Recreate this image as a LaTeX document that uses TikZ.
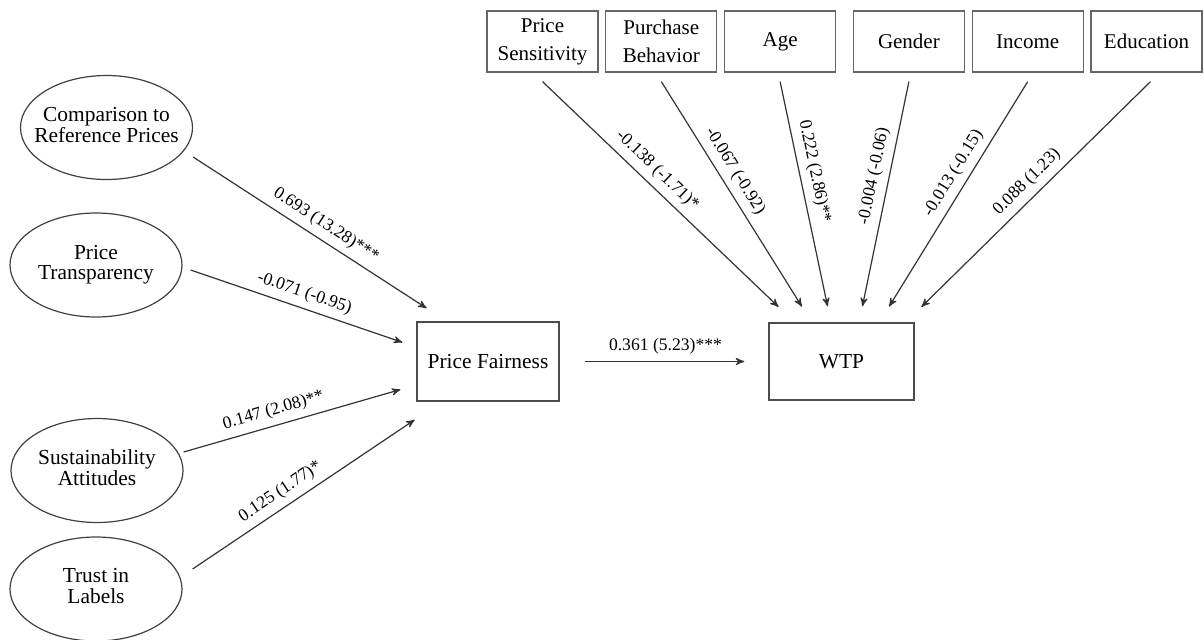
\documentclass[tikz,border=0pt]{standalone}
\usepackage{fontspec}
\setmainfont{Liberation Serif}
\usepackage{tikz}
\usetikzlibrary{arrows,positioning,shapes.geometric}

\newcommand{\twoline}[2]{\makebox[0pt]{\begin{tabular}{@{}c@{}}#1\\#2\end{tabular}}}

\begin{document}
\begin{tikzpicture}[x=0.5pt,y=-0.5pt,>=stealth',shorten >=1pt,
  every node/.style={font=\fontsize{10.7}{10}\selectfont},
  every edge/.append style={draw=black!80,line width=0.6pt},
  latent/.style={ellipse,draw=black!75,line width=0.6pt,minimum width=86pt,minimum height=52pt,inner sep=0pt},
  ctrl/.style={draw=black!60,line width=0.6pt,minimum width=55.5pt,minimum height=30.5pt,inner sep=1pt,align=center,font=\fontsize{10.5}{14}\selectfont},
  box/.style={draw=black!70,line width=0.7pt,minimum width=71pt,minimum height=39.5pt},
  coef/.style={sloped,above,inner sep=1pt,outer sep=2.5pt,font=\fontsize{8.8}{10}\selectfont}]
\useasboundingbox (0,0) rectangle (1204,639);

% antecedents
\node[latent] (crp) at (106.5,127.5) {\twoline{Comparison to}{Reference Prices}};
\node[latent] (pt)  at (96,265)      {\twoline{Price}{Transparency}};
\node[latent] (sa)  at (97,470.5)    {\twoline{Sustainability}{Attitudes}};
\node[latent] (tl)  at (96,589)      {\twoline{Trust in}{Labels}};

\node[box] (pf) at (488,361.5) {Price Fairness};
\node[box,minimum width=72.5pt,minimum height=38.5pt] (wtp) at (841.5,361.5) {WTP};

% controls
\node[ctrl] (ps)  at (542.5,41.5)   {Price\\Sensitivity};
\node[ctrl] (pb)  [right=3.3pt of ps]  {Purchase\\Behavior};
\node[ctrl] (age) [right=3.3pt of pb]  {Age};
\node[ctrl] (gen) [right=8.3pt of age] {Gender};
\node[ctrl] (inc) [right=3.3pt of gen] {Income};
\node[ctrl] (edu) [right=3.3pt of inc] {Education};

\path[->] ([shift={(0,29.5)}]crp.east) edge node[coef,pos=.53] {0.693 (13.28)***} ([shift={(12,-12)}]pf.north west)
([shift={(8,5)}]pt.east) edge node[coef,pos=.51] {-0.071 (-0.95)} ([shift={(-12,-18.5)}]pf.west)
([shift={(0,-18.5)}]sa.east) edge node[coef,pos=.43] {0.147 (2.08)**} ([shift={(-14,27.5)}]pf.west)
([shift={(10,-20)}]tl.east) edge node[coef,pos=.43] {0.125 (1.77)*} ([shift={(0,17)}]pf.south west)
([shift={(25,0)}]pf.east) edge node[coef,pos=.5] {0.361 (5.23)***} ([shift={(-22,0)}]wtp.west);

\path[->] ([shift={(0,9)}]ps.south) edge node[coef,pos=.44] {-0.138 (-1.71)*} ([shift={(-61.5,-14)}]wtp.north)
([shift={(0,9)}]pb.south) edge node[coef,pos=.43] {-0.067 (-0.92)} ([shift={(-38.5,-14)}]wtp.north)
([shift={(0,9)}]age.south) edge node[coef,pos=.41] {0.222 (2.86)**} ([shift={(-13.5,-14)}]wtp.north)
([shift={(0,9)}]gen.south) edge node[coef,pos=.43] {-0.004 (-0.06)} ([shift={(20.5,-14)}]wtp.north)
([shift={(0,9)}]inc.south) edge node[coef,pos=.44] {-0.013 (-0.15)} ([shift={(46.5,-14)}]wtp.north)
([shift={(4,9)}]edu.south) edge node[coef,pos=.49] {0.088 (1.23)} ([shift={(78.5,-14)}]wtp.north);
\end{tikzpicture}
\end{document}
